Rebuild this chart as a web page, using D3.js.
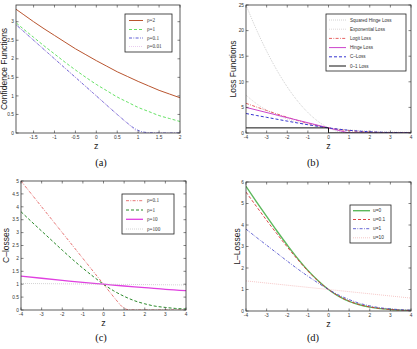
<!DOCTYPE html>
<html><head><meta charset="utf-8">
<script src="https://cdn.jsdelivr.net/npm/d3@7"></script>
<style>body{margin:0;background:#fff}</style>
</head><body>
<script>
// ---- (a) confidence functions
const zA = [-2,-1.75,-1.5,-1.25,-1,-0.75,-0.5,-0.25,0,0.25,0.5,0.75,1,1.25,1.5,1.75,2];
const confRho2 = [3.40,3.20,3.00,2.81,2.63,2.45,2.27,2.11,1.95,1.80,1.65,1.52,1.39,1.27,1.15,1.05,0.95];
const confRho1 = [3.05,2.81,2.58,2.35,2.13,1.91,1.70,1.50,1.31,1.14,0.97,0.83,0.69,0.58,0.47,0.39,0.31];
const zRho01 = [-2,-1,0,0.5,0.75,0.9,1,1.1,1.25,1.5,2];
const confRho01 = [3.0,2.0,1.0,0.5,0.26,0.13,0.07,0.03,0.01,0,0];
const zRho001 = [-2,1,2];
const confRho001 = [3.0,0,0];
const legendA = ['ρ=2','ρ=1','ρ=0.1','ρ=0.01'];

// ---- (b) loss functions
const zB = [-4,-3.5,-3,-2.5,-2,-1.5,-1,-0.5,0,0.5,1,1.5,2,2.5,3,3.5,4];
const sqHinge = [25,20.25,16,12.25,9,6.25,4,2.25,1,0.25,0,0,0,0,0,0,0];
const expLoss = [7.39,5.75,4.48,3.49,2.72,2.12,1.65,1.28,1,0.78,0.61,0.47,0.37,0.29,0.22,0.17,0.14];
const logitLoss = [5.80,5.09,4.40,3.72,3.07,2.45,1.89,1.41,1,0.68,0.45,0.29,0.18,0.11,0.07,0.04,0.03];
const zHinge = [-4,1,4];
const hingeLoss = [5,0,0];
const cLoss = [3.81,3.43,3.06,2.69,2.32,1.96,1.62,1.30,1,0.74,0.53,0.36,0.24,0.15,0.10,0.06,0.04];
const zZeroOne = [-4,0,0,4];
const zeroOneLoss = [1,1,0,0];
const legendB = ['Squared Hinge Loss','Exponential Loss','Logit Loss','Hinge Loss','C\u2013Loss','0\u20131 Loss'];

// ---- (c) C-losses
const zC01 = [-4,0,0.5,0.8,0.9,1,1.1,1.2,1.5,4];
const cRho01 = [5,1,0.5,0.21,0.13,0.07,0.03,0.01,0,0];
const zInt = [-4,-3,-2,-1,0,1,2,3,4];
const cRho10 = [1.31,1.23,1.15,1.07,1.0,0.93,0.87,0.80,0.75];
const zEnds3 = [-4,0,4];
const cRho100 = [1.03,1.0,0.97];
const legendC = ['ρ=0.1','ρ=1','ρ=10','ρ=100'];

// ---- (d) L-losses
const lU01 = [5.53,4.87,4.22,3.59,2.98,2.40,1.86,1.39,1,0.69,0.46,0.30,0.19,0.12,0.07,0.04,0.03];
const zEnds = [-4,4];
const lU10 = [1.4,0.6];
const legendD = ['u=0','u=0.1','u=1','u=10'];

const W = 417, H = 349;
const svg = d3.select('body').append('svg').attr('width', W).attr('height', H)
  .style('font-family', '"Liberation Sans", Arial, sans-serif');

const DASH = '3,2', DASHDOT = '3,1.4,0.8,1.4', DOT = '0.8,1.2';

function pts(xs, ys) { return xs.map((x, i) => [x, ys[i]]); }

function drawPanel(p, id) {
  const [l, t, r, b] = p.box;
  const x = d3.scaleLinear().domain(p.xDomain).range([l, r]);
  const y = d3.scaleLinear().domain(p.yDomain).range([b, t]);
  const g = svg.append('g');

  g.append('clipPath').attr('id', 'clip' + id).append('rect')
    .attr('x', l).attr('y', t).attr('width', r - l).attr('height', b - t);

  const smooth = d3.line().x(d => x(d[0])).y(d => y(d[1])).curve(d3.curveMonotoneX);
  const straight = d3.line().x(d => x(d[0])).y(d => y(d[1]));
  const plot = g.append('g').attr('clip-path', `url(#clip${id})`);
  p.series.forEach(s => {
    plot.append('path').attr('d', (s.linear ? straight : smooth)(s.data)).attr('fill', 'none')
      .attr('stroke', s.color).attr('stroke-width', s.width || 0.8)
      .attr('stroke-dasharray', s.dash || null);
  });

  // frame + inward ticks on all sides
  g.append('rect').attr('x', l).attr('y', t).attr('width', r - l).attr('height', b - t)
    .attr('fill', 'none').attr('stroke', '#333').attr('stroke-width', 0.8);
  const tk = 2.5;
  p.xTicks.forEach(v => {
    g.append('line').attr('x1', x(v)).attr('x2', x(v)).attr('y1', b).attr('y2', b - tk).attr('stroke', '#333').attr('stroke-width', 0.6);
    g.append('line').attr('x1', x(v)).attr('x2', x(v)).attr('y1', t).attr('y2', t + tk).attr('stroke', '#333').attr('stroke-width', 0.6);
    g.append('text').attr('x', x(v)).attr('y', b + 6).attr('text-anchor', 'middle')
      .attr('font-size', 4.8).attr('fill', '#333').text(String(v));
  });
  p.yTicks.forEach(v => {
    g.append('line').attr('x1', l).attr('x2', l + tk).attr('y1', y(v)).attr('y2', y(v)).attr('stroke', '#333').attr('stroke-width', 0.6);
    g.append('line').attr('x1', r).attr('x2', r - tk).attr('y1', y(v)).attr('y2', y(v)).attr('stroke', '#333').attr('stroke-width', 0.6);
    g.append('text').attr('x', l - 2).attr('y', y(v) + 1.7).attr('text-anchor', 'end')
      .attr('font-size', 4.8).attr('fill', '#333').text(String(v));
  });

  // axis labels + caption
  g.append('text').attr('x', x(0)).attr('y', p.zY).attr('text-anchor', 'middle')
    .attr('font-size', 9).attr('fill', '#222').text('z');
  g.append('text').attr('transform', `translate(${p.ylabelX},${(t + b) / 2}) rotate(-90)`)
    .attr('text-anchor', 'middle').attr('font-size', 8.5).attr('fill', '#222').text(p.ylabel);
  g.append('text').attr('x', p.cap[0]).attr('y', p.cap[1]).attr('text-anchor', 'middle')
    .attr('font-family', '"Liberation Serif", "Times New Roman", serif')
    .attr('font-size', 10.5).attr('fill', '#111').text(p.caption);

  // legend
  const lg = p.legend;
  g.append('rect').attr('x', lg.box[0]).attr('y', lg.box[1])
    .attr('width', lg.box[2] - lg.box[0]).attr('height', lg.box[3] - lg.box[1])
    .attr('fill', '#fff').attr('stroke', '#222').attr('stroke-width', 0.8);
  lg.labels.forEach((lab, i) => {
    const s = p.series[i];
    const yy = lg.rows[i];
    g.append('line').attr('x1', lg.lineX[0]).attr('x2', lg.lineX[1]).attr('y1', yy).attr('y2', yy)
      .attr('stroke', s.color).attr('stroke-width', s.width || 0.8).attr('stroke-dasharray', s.dash || null);
    g.append('text').attr('x', lg.textX).attr('y', yy + 1.6).attr('font-size', lg.font)
      .attr('font-family', lg.serif ? '"Liberation Serif", serif' : null)
      .attr('fill', '#333').text(lab);
  });
}

drawPanel({
  box: [16, 5, 180, 133], xDomain: [-1.92, 2], yDomain: [0, 3.45],
  xTicks: [-1.5, -1, -0.5, 0, 0.5, 1, 1.5, 2], yTicks: [0, 0.5, 1, 1.5, 2, 2.5, 3],
  ylabel: 'Confidence Functions', ylabelX: 6.5, zY: 149, caption: '(a)', cap: [101, 166],
  series: [
    { data: pts(zA, confRho2), color: '#b9552f', width: 1 },
    { data: pts(zA, confRho1), color: '#3fd93f', dash: DASH },
    { data: pts(zRho01, confRho01), color: '#3434c8', dash: DASHDOT },
    { data: pts(zRho001, confRho001), color: '#dcb0e6', dash: DOT, linear: true }
  ],
  legend: { box: [125, 14, 172, 52], rows: [20.5, 29.5, 38, 46.5], lineX: [129, 143], textX: 147, font: 5.2, serif: true,
    labels: legendA }
}, 'a');

drawPanel({
  box: [246, 5, 411, 133], xDomain: [-4, 4], yDomain: [0, 25],
  xTicks: [-4, -3, -2, -1, 0, 1, 2, 3, 4], yTicks: [0, 5, 10, 15, 20, 25],
  ylabel: 'Loss Functions', ylabelX: 236, zY: 149, caption: '(b)', cap: [313, 166],
  series: [
    { data: pts(zB, sqHinge), color: '#b8b8b8', dash: DOT },
    { data: pts(zB, expLoss), color: '#c8c0c0', dash: DOT },
    { data: pts(zB, logitLoss), color: '#e03a3a', dash: DASHDOT },
    { data: pts(zHinge, hingeLoss), color: '#cc44cc', width: 1, linear: true },
    { data: pts(zB, cLoss), color: '#3535d0', dash: DASH, width: 1 },
    { data: pts(zZeroOne, zeroOneLoss), color: '#111', width: 1, linear: true }
  ],
  legend: { box: [326, 14, 406, 71], rows: [20, 29.2, 38.4, 47.6, 56.8, 66], lineX: [329, 346], textX: 350, font: 4.6,
    labels: legendB }
}, 'b');

drawPanel({
  box: [21, 181, 186, 310], xDomain: [-4, 4], yDomain: [0, 5],
  xTicks: [-4, -3, -2, -1, 0, 1, 2, 3, 4], yTicks: [0, 0.5, 1, 1.5, 2, 2.5, 3, 3.5, 4, 4.5, 5],
  ylabel: 'C\u2013losses', ylabelX: 9, zY: 326, caption: '(c)', cap: [101, 341],
  series: [
    { data: pts(zC01, cRho01), color: '#e05050', dash: DASHDOT, linear: true },
    { data: pts(zB, cLoss), color: '#2a8a2a', dash: DASH, width: 1 },
    { data: pts(zInt, cRho10), color: '#e040e0', width: 1.3 },
    { data: pts(zEnds3, cRho100), color: '#bbbbbb', dash: DOT, linear: true }
  ],
  legend: { box: [122, 194, 174, 234], rows: [200.7, 210, 219.3, 229], lineX: [126, 143], textX: 147, font: 5.2, serif: true,
    labels: legendC }
}, 'c');

drawPanel({
  box: [246, 182, 411, 311], xDomain: [-4, 4], yDomain: [0, 6],
  xTicks: [-4, -3, -2, -1, 0, 1, 2, 3, 4], yTicks: [0, 1, 2, 3, 4, 5, 6],
  ylabel: 'L\u2013Losses', ylabelX: 240, zY: 327, caption: '(d)', cap: [313, 341],
  series: [
    { data: pts(zB, logitLoss), color: '#5cb85c', width: 1.4 },
    { data: pts(zB, lU01), color: '#d83030', dash: DASH, width: 0.9 },
    { data: pts(zB, cLoss), color: '#3c3cc8', dash: DASHDOT },
    { data: pts(zEnds, lU10), color: '#f0a8a8', dash: DOT, linear: true }
  ],
  legend: { box: [350, 205, 391, 243], rows: [210.7, 219.5, 228.7, 237.8], lineX: [353, 370], textX: 373, font: 4.8,
    labels: legendD }
}, 'd');
</script>
</body></html>
